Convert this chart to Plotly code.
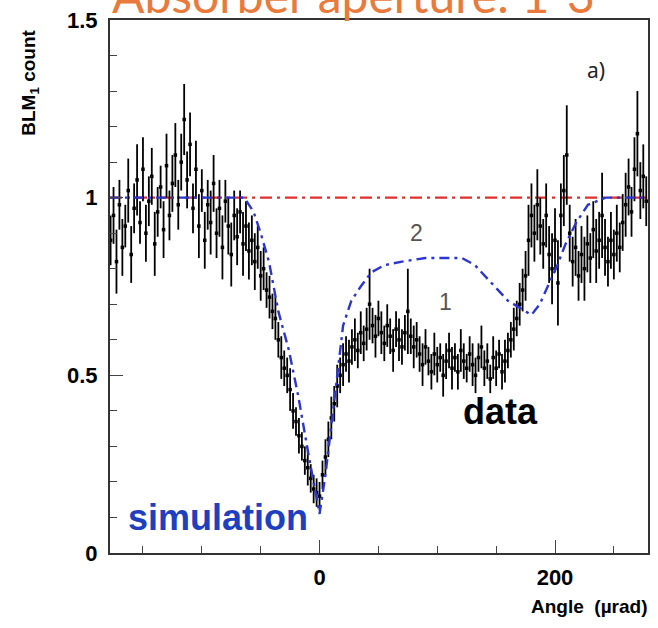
import plotly.graph_objects as go

# ---------------- data ----------------
angle_bins = [-177.5 + 2.5 * i for i in range(183)]  # bin centres (µrad)

blm_counts = [
    # -177.5 .. -60
    0.88, 0.95, 0.82, 0.98, 0.86, 0.92, 1.02, 0.84, 0.97, 1.05, 0.93, 1.08,
    0.90, 0.99, 1.06, 0.87, 0.96, 1.03, 0.91, 1.09, 0.95, 1.04, 1.12, 0.98,
    1.10, 1.22, 1.05, 1.15, 0.97, 1.08, 0.92, 1.02, 0.88, 0.98, 0.93, 1.04,
    0.90, 0.97, 0.86, 0.99, 0.92, 0.84, 0.95, 0.89, 0.96, 0.87, 0.92, 0.85,
    # -57.5 .. -2.5
    0.88, 0.82, 0.86, 0.78, 0.80, 0.74, 0.72, 0.68, 0.66, 0.60, 0.55, 0.52,
    0.50, 0.46, 0.40, 0.37, 0.33, 0.30, 0.26, 0.24, 0.21, 0.18, 0.17,
    # 0 .. 40
    0.16, 0.22, 0.27, 0.32, 0.38, 0.42, 0.47, 0.50, 0.53, 0.56, 0.54, 0.58,
    0.60, 0.57, 0.62, 0.59, 0.63,
    # 42.5 .. 82.5
    0.70, 0.64, 0.61, 0.66, 0.62, 0.59, 0.64, 0.61, 0.57, 0.63, 0.60, 0.58,
    0.62, 0.68, 0.61, 0.58, 0.60,
    # 85 .. 160
    0.56, 0.53, 0.58, 0.54, 0.51, 0.56, 0.53, 0.55, 0.50, 0.54, 0.57, 0.52,
    0.55, 0.51, 0.57, 0.54, 0.52, 0.56, 0.53, 0.50, 0.55, 0.58, 0.52, 0.54,
    0.49, 0.55, 0.52, 0.56, 0.51, 0.54, 0.57,
    # 162.5 .. 277.5
    0.60, 0.63, 0.66, 0.70, 0.74, 0.78, 0.88, 0.95, 0.90, 0.98, 0.92, 0.87,
    0.95, 0.84, 0.80, 0.88, 0.76, 0.95, 1.02, 1.12, 0.90, 0.82, 0.86, 0.78,
    0.84, 0.80, 0.87, 0.83, 0.91, 0.85, 0.88, 0.95, 0.86, 0.82, 0.88, 0.84,
    0.90, 0.86, 0.93, 0.98, 1.03, 0.96, 1.08, 1.18, 1.02, 1.06, 0.99,
]

blm_errors = [
    0.07, 0.08, 0.09, 0.07, 0.08, 0.06, 0.09, 0.08, 0.07, 0.10, 0.06, 0.09,
    0.08, 0.07, 0.08, 0.09, 0.07, 0.06, 0.08, 0.09, 0.07, 0.08, 0.09, 0.07,
    0.08, 0.10, 0.08, 0.09, 0.07, 0.08, 0.09, 0.06, 0.08, 0.07, 0.09, 0.08,
    0.07, 0.08, 0.09, 0.06, 0.08, 0.09, 0.07, 0.08, 0.06, 0.09, 0.07, 0.08,
    0.07, 0.08, 0.06, 0.07, 0.06, 0.05, 0.06, 0.05, 0.06, 0.05, 0.06, 0.05,
    0.05, 0.06, 0.05, 0.04, 0.05, 0.04, 0.04, 0.05, 0.04, 0.04, 0.04,
    0.04, 0.04, 0.05, 0.05, 0.06, 0.05, 0.06, 0.05, 0.06, 0.05, 0.06, 0.05,
    0.06, 0.05, 0.06, 0.05, 0.06,
    0.10, 0.05, 0.06, 0.05, 0.06, 0.05, 0.06, 0.05, 0.06, 0.05, 0.06, 0.05,
    0.05, 0.12, 0.05, 0.06, 0.05,
    0.05, 0.06, 0.05, 0.04, 0.05, 0.06, 0.05, 0.04, 0.06, 0.05, 0.05, 0.06,
    0.04, 0.05, 0.06, 0.05, 0.04, 0.05, 0.06, 0.05, 0.04, 0.06, 0.05, 0.05,
    0.04, 0.06, 0.05, 0.04, 0.05, 0.06, 0.05,
    0.05, 0.06, 0.05, 0.06, 0.06, 0.07, 0.10, 0.09, 0.08, 0.10, 0.08, 0.07,
    0.09, 0.08, 0.10, 0.09, 0.12, 0.09, 0.10, 0.14, 0.08, 0.07, 0.08, 0.07,
    0.08, 0.09, 0.08, 0.07, 0.08, 0.09, 0.08, 0.12, 0.08, 0.07, 0.08, 0.07,
    0.08, 0.07, 0.08, 0.09, 0.08, 0.07, 0.09, 0.12, 0.08, 0.09, 0.07,
]

sim_angle = [-178, -64, -56, -50, -43, -35, -26, -18, -9, 0, 5, 10, 14, 20, 27,
             35, 44, 55, 70, 90, 110, 121, 132, 143, 152, 160, 170, 180, 187,
             194, 202, 209, 218, 228, 243, 279]
sim_count = [1.0, 1.0, 0.96, 0.90, 0.82, 0.68, 0.57, 0.44, 0.27, 0.11, 0.22,
             0.35, 0.47, 0.64, 0.71, 0.75, 0.79, 0.81, 0.82, 0.83, 0.83, 0.83,
             0.81, 0.77, 0.74, 0.71, 0.69, 0.67, 0.70, 0.75, 0.81, 0.87, 0.93,
             0.98, 1.0, 1.0]

ref_angle = [-178, 279]
ref_count = [1.0, 1.0]

x_range = [-178, 279]
y_range = [0, 1.5]

# ---------------- figure ----------------
fig = go.Figure()

fig.add_trace(go.Scatter(
    x=ref_angle, y=ref_count, mode="lines",
    line=dict(color="#E0302C", width=2.2, dash="12px,5px,3px,5px"),
    showlegend=False, hoverinfo="skip"))

fig.add_trace(go.Scatter(
    x=angle_bins, y=blm_counts, mode="markers",
    marker=dict(color="black", size=3.5, symbol="square"),
    error_y=dict(type="data", array=blm_errors, color="black",
                 thickness=1.8, width=0),
    showlegend=False))

fig.add_trace(go.Scatter(
    x=sim_angle, y=sim_count, mode="lines",
    line=dict(color="#2B35D0", width=2.4, dash="10px,5px,3px,5px"),
    showlegend=False))

tick_font = dict(family="Liberation Sans", size=22, color="black", weight="bold")

fig.update_xaxes(
    range=x_range, tick0=0, dtick=200, ticks="inside", ticklen=13,
    tickwidth=1, tickcolor="#444", showgrid=False, zeroline=False,
    showline=True, linecolor="#333", linewidth=2, mirror=True,
    tickfont=tick_font, ticklabelstandoff=4,
    minor=dict(tick0=0, dtick=50, ticks="inside", ticklen=7,
               tickcolor="#444", showgrid=False))
fig.update_yaxes(
    range=y_range, tick0=0, dtick=0.5, ticks="inside", ticklen=13,
    tickwidth=1, tickcolor="#444", showgrid=False, zeroline=False,
    showline=True, linecolor="#333", linewidth=2, mirror=True,
    tickfont=tick_font, ticklabelstandoff=6,
    minor=dict(tick0=0, dtick=0.1, ticks="inside", ticklen=7,
               tickcolor="#444", showgrid=False))

L, R, T, B = 110, 8, 15, 75
W, H = 658, 628
pw, ph = W - L - R, H - T - B


def px(xp):
    return (xp - L) / pw


def py(yp):
    return (H - B - yp) / ph


def note(text, x, y, font, xanchor="center", yanchor="middle", angle=0):
    return dict(text=text, x=px(x), y=py(y), xref="paper", yref="paper",
                xanchor=xanchor, yanchor=yanchor, textangle=angle,
                showarrow=False, font=font)


bold = dict(family="Liberation Sans", color="black", weight="bold")

annotations = [
    note("Absorber aperture: 1-3", 110, 20,
         dict(family="Lato", size=48, color="#EA7A3C"), xanchor="left",
         yanchor="bottom"),
    note("BLM<sub>1</sub> count", 30, 78, dict(bold, size=19), angle=-90),
    note("Angle  (µrad)", 652, 607, dict(bold, size=19), xanchor="right"),
    note("a)", 598, 65, dict(family="Noto Sans", size=21, color="#222")),
    note("2", 418, 230, dict(family="Liberation Sans", size=23, color="#555")),
    note("1", 447, 300, dict(family="Liberation Sans", size=23, color="#555")),
    note("data", 502, 410, dict(bold, size=36)),
    note("simulation", 126, 517, dict(bold, size=36, color="#1E3FBF"),
         xanchor="left"),
]

fig.update_layout(
    width=W, height=H,
    margin=dict(l=L, r=R, t=T, b=B),
    paper_bgcolor="white", plot_bgcolor="white",
    annotations=annotations,
    showlegend=False,
)

fig.write_html("out.html",
               config={"displayModeBar": False},
               post_script="document.body.style.margin='0px';"
                           "document.body.style.overflow='hidden';")
